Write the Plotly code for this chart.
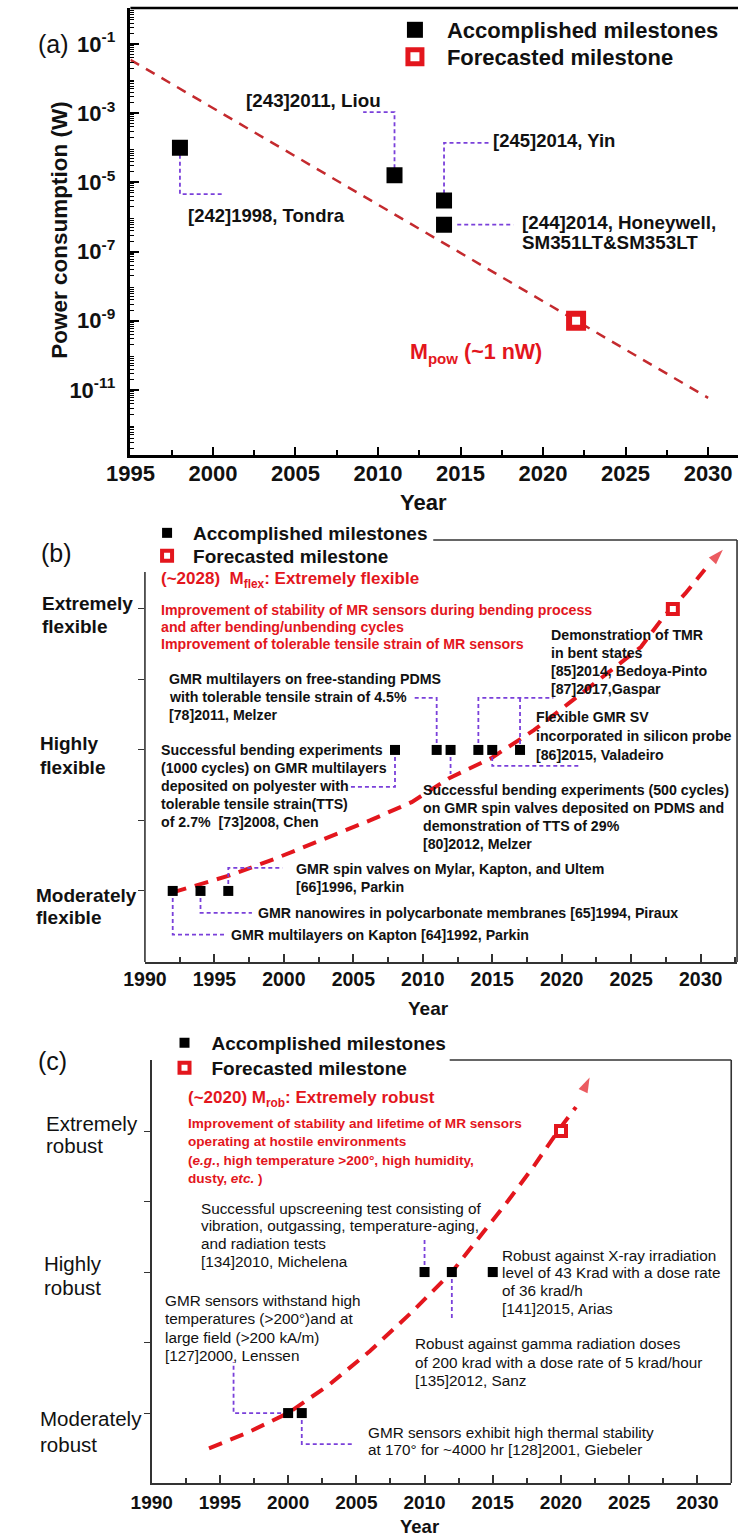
import plotly.graph_objects as go

W, H = 738, 1540

# ---------------- data ----------------
# (a) power consumption of MR sensors
pow_years = [1998, 2011, 2014, 2014]
pow_watts = [1.0e-4, 1.6e-5, 3.0e-6, 6.0e-7]
pow_target_year = [2022]
pow_target_watts = [1.0e-9]
pow_trend_years = [1995, 2030]
pow_trend_watts = [3.5e-2, 5.9e-12]

# callout paths (year, watts) linking each milestone to its reference text
pow_callouts = [
    ([1998, 1998, 2000.6], [1.0e-4, 4.6e-6, 4.6e-6]),
    ([2011, 2011, 2009.1], [1.6e-5, 1.07e-3, 1.07e-3]),
    ([2014, 2014, 2016.8], [3.0e-6, 1.38e-4, 1.38e-4]),
    ([2014.8, 2018.2], [6.0e-7, 6.0e-7]),
]

# (b) flexibility
flex_years = [1992, 1994, 1996, 2008, 2011, 2012, 2014, 2015, 2017]
flex_levels = [1, 1, 1, 2, 2, 2, 2, 2, 2]
flex_target_year = [2028]
flex_target_level = [3]
flex_trend_years = [1992.0, 1996.1, 1999.4, 2002.7, 2006.2, 2009.2, 2011.9,
                    2014.9, 2018.0, 2020.5, 2023.3, 2025.7, 2027.3, 2028.9, 2030.3]
flex_trend_levels = [0.99, 1.11, 1.23, 1.36, 1.50, 1.63, 1.80,
                     1.94, 2.14, 2.33, 2.55, 2.73, 2.94, 3.11, 3.28]
flex_arrow_tip = ([2030.3, 2031.6], [3.28, 3.42])

flex_callouts = [
    ([1992, 1992, 1995.8], [1, 0.69, 0.69]),
    ([1994, 1994, 1997.7], [1, 0.845, 0.845]),
    ([1996, 1996, 1999.9], [1, 1.163, 1.163]),
    ([2008, 2008, 2004.8], [2, 1.738, 1.738]),
    ([2011, 2011, 2009.3], [2, 2.369, 2.369]),
    ([2012, 2012], [2, 1.83]),
    ([2014, 2014, 2019.4, None, 2017, 2017], [2, 2.369, 2.369, None, 2.369, 2]),
    ([2015, 2015, 2021.4], [2, 1.887, 1.887]),
]

# (c) robustness
rob_years = [2000, 2001, 2010, 2012, 2015]
rob_levels = [1, 1, 2, 2, 2]
rob_target_year = [2020]
rob_target_level = [3]
rob_trend_years = [1994.2, 1997.0, 2000.0, 2003.0, 2006.0, 2009.0, 2012.0,
                   2014.0, 2016.0, 2018.0, 2020.0, 2021.1]
rob_trend_levels = [0.75, 0.86, 1.00, 1.20, 1.44, 1.71, 2.00,
                    2.24, 2.49, 2.75, 3.03, 3.17]
rob_arrow_tip = ([2021.1, 2022.1], [3.17, 3.38])

rob_callouts = [
    ([2010, 2010], [2, 2.248]),
    ([2012, 2012], [2, 1.66]),
    ([2000, 1996.0, 1996.0], [1, 1, 1.362]),
    ([2001, 2001, 2004.8], [1, 0.78, 0.78]),
]

labelled_exponents = [-11, -9, -7, -5, -3, -1]
plain_exponents = [-12, -10, -8, -6, -4, -2, 0]
year_ticks_a = [1995, 2000, 2005, 2010, 2015, 2020, 2025, 2030]
year_ticks_bc = [1990, 1995, 2000, 2005, 2010, 2015, 2020, 2025, 2030]

# ---------------- styling ----------------
FONT = "Liberation Sans, Arial, sans-serif"
RED = "#E3161D"
TREND_RED = "#C42A2E"
PURPLE = "#7A40DA"
BLACK = "#111111"
AXIS = "#333333"


def px(x):
    return x / W


def py(y):
    return 1 - y / H


fig = go.Figure()


def add_callouts(paths, xa, ya):
    for xs, ys in paths:
        fig.add_trace(go.Scatter(
            x=xs, y=ys, mode="lines", xaxis=xa, yaxis=ya, showlegend=False,
            hoverinfo="skip", connectgaps=False,
            line=dict(color=PURPLE, width=1.8, dash="4px,3px")))


def add_points(xs, ys, tx, ty, xa, ya, leg_a, leg_f, size, fsize, flw):
    fig.add_trace(go.Scatter(
        x=xs, y=ys, mode="markers", xaxis=xa, yaxis=ya,
        name="Accomplished milestones", legend=leg_a,
        marker=dict(symbol="square", size=size, color="black",
                    line=dict(width=0))))
    fig.add_trace(go.Scatter(
        x=tx, y=ty, mode="markers", xaxis=xa, yaxis=ya,
        name="Forecasted milestone", legend=leg_f,
        marker=dict(symbol="square", size=fsize, color="white",
                    line=dict(width=flw, color=RED))))


# ---- panel (a)
fig.add_trace(go.Scatter(
    x=pow_trend_years, y=pow_trend_watts, mode="lines", xaxis="x", yaxis="y",
    showlegend=False, hoverinfo="skip",
    line=dict(color=TREND_RED, width=2.5, dash="10px,8px")))
add_callouts(pow_callouts, "x", "y")
add_points(pow_years, pow_watts, pow_target_year, pow_target_watts,
           "x", "y", "legend", "legend2", 16, 14, 6)

# ---- panels (b) and (c): trend curves ending in an arrowhead
for (tx, ty), xs, ys, xa, ya in [
        (flex_arrow_tip, flex_trend_years, flex_trend_levels, "x2", "y2"),
        (rob_arrow_tip, rob_trend_years, rob_trend_levels, "x3", "y3")]:
    fig.add_trace(go.Scatter(
        x=xs, y=ys, mode="lines", xaxis=xa, yaxis=ya, showlegend=False,
        hoverinfo="skip", line=dict(color=RED, width=4, dash="14px,9px")))
    fig.add_trace(go.Scatter(
        x=tx, y=ty, mode="markers", xaxis=xa, yaxis=ya, showlegend=False,
        hoverinfo="skip",
        marker=dict(symbol="arrow", angleref="previous", size=[0, 16],
                    color=RED, line=dict(width=0))))

add_callouts(flex_callouts, "x2", "y2")
add_points(flex_years, flex_levels, flex_target_year, flex_target_level,
           "x2", "y2", "legend3", "legend4", 10, 10, 4)

add_callouts(rob_callouts, "x3", "y3")
add_points(rob_years, rob_levels, rob_target_year, rob_target_level,
           "x3", "y3", "legend5", "legend6", 10, 10, 4)

# ---------------- annotations ----------------
ann = []


def text(t, x, y, size, color=BLACK, bold=False, anchor="left", angle=0,
         family=FONT):
    ann.append(dict(
        text=t, x=px(x), y=py(y), xref="paper", yref="paper",
        xanchor=anchor, yanchor="middle", showarrow=False, textangle=angle,
        font=dict(family=family, size=size, color=color,
                  weight="bold" if bold else "normal")))


def lines(ls, x, ys, size, color=BLACK, bold=False):
    for s, y in zip(ls, ys):
        text(s, x, y, size, color, bold)


# (a)
text("(a)", 12, 44, 25)
text("Power consumption (W)", 36, 230, 22.5, bold=True, anchor="center", angle=-90)
text("Year", 413, 503, 22, bold=True, anchor="center")
text("[243]2011, Liou", 227, 100, 18.8, bold=True)
text("[242]1998, Tondra", 167, 215, 18.5, bold=True)
text("[245]2014, Yin", 483, 140, 18.5, bold=True)
lines(["[244]2014, Honeywell,", "SM351LT&SM353LT"], 513, [222, 242], 18.8, bold=True)
text("M<sub>pow</sub> (~1 nW)", 397, 353, 21.5, color=RED, bold=True)

# (b)
text("(b)", 16, 553, 25)
lines(["Extremely", "flexible"], 17, [603, 626], 19, bold=True)
lines(["Highly", "flexible"], 14, [744, 767], 19, bold=True)
lines(["Moderately", "flexible"], 10, [895, 917], 19, bold=True)
text("Year", 418, 1008, 19, bold=True, anchor="center")
text("(~2028)  M<sub>flex</sub>: Extremely flexible", 140, 580, 17, color=RED, bold=True)
lines(["Improvement of stability of MR sensors during bending process",
       "and after bending/unbending cycles",
       "Improvement of tolerable tensile strain of MR sensors"],
      140, [610, 627, 644], 14.2, color=RED, bold=True)
lines(["Demonstration of TMR", "in bent states", "[85]2014, Bedoya-Pinto",
       "[87]2017,Gaspar"], 543, [635, 653, 671, 689], 14.2, bold=True)
lines(["GMR multilayers on free-standing PDMS",
       "with tolerable tensile strain of 4.5%", "[78]2011, Melzer"],
      148, [679, 697, 715], 14.2, bold=True)
lines(["Flexible GMR SV", "incorporated in silicon probe",
       "[86]2015, Valadeiro"], 527, [717, 736, 755], 14.2, bold=True)
lines(["Successful bending experiments", "(1000 cycles) on GMR multilayers",
       "deposited on polyester with", "tolerable tensile strain(TTS)",
       "of 2.7%  [73]2008, Chen"], 140, [750, 768, 786, 804, 822], 14.2, bold=True)
lines(["Successful bending experiments (500 cycles)",
       "on GMR spin valves deposited on PDMS and",
       "demonstration of TTS of 29%", "[80]2012, Melzer"],
      410, [790, 808, 826, 844], 14.2, bold=True)
lines(["GMR spin valves on Mylar, Kapton, and Ultem", "[66]1996, Parkin"],
      279, [869, 887], 14.2, bold=True)
text("GMR nanowires in polycarbonate membranes [65]1994, Piraux", 240, 913, 14.2, bold=True)
text("GMR multilayers on Kapton [64]1992, Parkin", 212, 935, 14.2, bold=True)

# (c)
text("(c)", 12, 1061, 25)
lines(["Extremely", "robust"], 21, [1123, 1145], 20.5)
lines(["Highly", "robust"], 19, [1263, 1287], 20.5)
lines(["Moderately", "robust"], 14, [1418, 1444], 20.5)
text("Year", 409, 1526, 18.5, bold=True, anchor="center")
text("(~2020) M<sub>rob</sub>: Extremely robust", 167, 1099, 17, color=RED, bold=True)
lines(["Improvement of stability and lifetime of MR sensors",
       "operating at hostile environments",
       "(<i>e.g.</i>, high temperature >200°, high humidity,",
       "dusty, <i>etc.</i> )"], 167, [1123, 1141, 1160, 1178], 13.6, color=RED, bold=True)
lines(["Successful upscreening test consisting of",
       "vibration, outgassing, temperature-aging,",
       "and radiation tests", "[134]2010, Michelena"],
      181, [1208, 1225, 1243, 1261], 15.3)
lines(["Robust against X-ray irradiation", "level of 43 Krad with a dose rate",
       "of 36 krad/h", "[141]2015, Arias"], 492, [1255, 1272, 1290, 1308], 15.3)
lines(["Robust against gamma radiation doses",
       "of 200 krad with a dose rate of 5 krad/hour", "[135]2012, Sanz"],
      402, [1343, 1362, 1380], 15.3)
lines(["GMR sensors withstand high", "temperatures (>200°)and at",
       "large field (>200 kA/m)", "[127]2000, Lenssen"],
      144, [1300, 1318, 1337, 1355], 15.3)
lines(["GMR sensors exhibit high thermal stability",
       "at 170° for ~4000 hr [128]2001, Giebeler"], 353, [1432, 1449], 15.3)

# ---------------- frame lines ----------------
shapes = [
    dict(type="line", xref="paper", yref="paper", x0=px(110), x1=1, y0=py(8), y1=py(8),
         line=dict(color="black", width=2.5)),
    dict(type="line", xref="paper", yref="paper", x0=px(423), x1=px(737), y0=py(540), y1=py(540),
         line=dict(color=AXIS, width=1.6)),
    dict(type="line", xref="paper", yref="paper", x0=px(737), x1=px(737), y0=py(540), y1=py(962),
         line=dict(color=AXIS, width=1.6)),
    dict(type="line", xref="paper", yref="paper", x0=px(125), x1=px(125), y0=py(572), y1=py(962),
         line=dict(color=AXIS, width=1.6)),
    dict(type="line", xref="paper", yref="paper", x0=px(440), x1=px(731), y0=py(1060), y1=py(1060),
         line=dict(color=AXIS, width=1.6)),
    dict(type="line", xref="paper", yref="paper", x0=px(731), x1=px(731), y0=py(1060), y1=py(1483),
         line=dict(color=AXIS, width=1.6)),
]

# ---------------- axes ----------------
def xaxis_cfg(domain, rng, ticks, size, lw, color, t0, standoff):
    return dict(domain=domain, range=rng, tickmode="array", tickvals=ticks,
                ticks="inside", ticklen=8, tickwidth=2, tickcolor=color,
                minor=dict(ticks="inside", ticklen=5, tickwidth=1.5, tickcolor=color,
                           dtick=2.5, tick0=t0),
                showline=True, linewidth=lw, linecolor=color, showgrid=False,
                zeroline=False, ticklabelstandoff=standoff,
                tickfont=dict(family=FONT, size=size, color=BLACK, weight="bold"))


POW_RANGE = [-12.88, 0.04]

layout_axes = dict(
    xaxis=xaxis_cfg([px(110), 1.0], [1995, 2031.81], year_ticks_a, 22, 2.5, "black", 1995, -3),
    yaxis=dict(domain=[py(455), py(8)], type="log", range=POW_RANGE,
               tickmode="array", tickvals=[10.0 ** k for k in labelled_exponents],
               ticktext=["10<sup>%d</sup>" % k for k in labelled_exponents],
               ticks="inside", ticklen=9, tickwidth=2, tickcolor="black",
               minor=dict(ticks="inside", ticklen=4, tickwidth=1, tickcolor="black",
                          tickmode="array",
                          tickvals=[m * 10.0 ** k for k in range(-13, 0) for m in range(2, 10)]),
               showline=True, linewidth=2.5, linecolor="black", showgrid=False,
               zeroline=False, ticklabelstandoff=8,
               tickfont=dict(family=FONT, size=22, color=BLACK, weight="bold")),
    # unlabelled decade ticks sharing the power axis
    yaxis4=dict(overlaying="y", anchor="x", side="left", type="log", range=POW_RANGE,
                tickmode="array", tickvals=[10.0 ** k for k in plain_exponents],
                ticks="inside", ticklen=9, tickwidth=2, tickcolor="black",
                showticklabels=False, showline=False, showgrid=False, zeroline=False),
    xaxis2=xaxis_cfg([px(125), px(737)], [1990, 2032.62], year_ticks_bc, 19.5, 1.6, AXIS, 1990, -1),
    yaxis2=dict(domain=[py(962), py(540)], range=[0.496, 3.489], anchor="x2",
                tickmode="array", tickvals=[1, 1.5, 2, 2.5, 3], ticks="outside",
                ticklen=6, tickwidth=1.2, tickcolor=AXIS, showticklabels=False,
                showline=False, showgrid=False, zeroline=False),
    xaxis3=xaxis_cfg([px(132), px(731)], [1990, 2032.48], year_ticks_bc, 19, 1.6, AXIS, 1990, 1),
    yaxis3=dict(domain=[py(1483), py(1060)], range=[0.504, 3.504], anchor="x3",
                tickmode="array", tickvals=[1, 1.5, 2, 2.5, 3], ticks="outside",
                ticklen=6, tickwidth=1.2, tickcolor=AXIS, showticklabels=False,
                showline=True, linewidth=1.6, linecolor=AXIS, showgrid=False,
                zeroline=False),
)
layout_axes["xaxis2"]["anchor"] = "y2"
layout_axes["xaxis3"]["anchor"] = "y3"


def legend_cfg(text_left, y, size, itemwidth):
    return dict(x=px(text_left - itemwidth - 10), y=py(y), xanchor="left",
                yanchor="middle", bgcolor="rgba(0,0,0,0)", borderwidth=0,
                itemwidth=itemwidth,
                font=dict(family=FONT, size=size, color=BLACK, weight="bold"))


fig.update_layout(
    width=W, height=H, margin=dict(l=0, r=0, t=0, b=0),
    paper_bgcolor="white", plot_bgcolor="white", hovermode=False,
    annotations=ann, shapes=shapes,
    legend=legend_cfg(435, 30, 22, 54),
    legend2=legend_cfg(435, 57, 22, 54),
    legend3=legend_cfg(173, 533, 19, 42),
    legend4=legend_cfg(173, 556, 19, 42),
    legend5=legend_cfg(192, 1043, 19, 44),
    legend6=legend_cfg(192, 1068, 19, 44),
    **layout_axes,
)

fig.write_html("out.html")
